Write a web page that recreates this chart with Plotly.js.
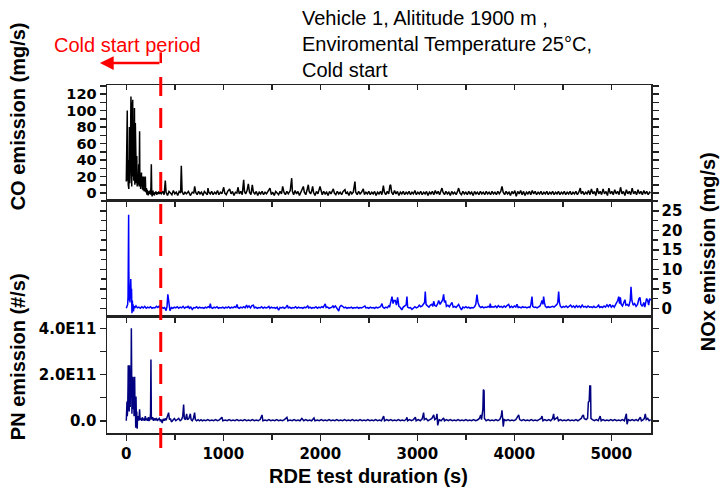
<!DOCTYPE html>
<html>
<head>
<meta charset="utf-8">
<script src="https://cdn.plot.ly/plotly-3.0.1.min.js"></script>
<style>html,body{margin:0;padding:0;background:#fff;}#chart{width:722px;height:487px;}</style>
</head>
<body>
<div id="chart"></div>
<script>
// ---- data (time in s, value) ----
const coldStartEnd = 355;
const xTickVals = [0, 1000, 2000, 3000, 4000, 5000];
const pnTickVals = [0, 1e11, 2e11, 3e11, 4e11];
const pnTickText = ['0.0', '', '2.0E11', '', '4.0E11'];

const coData = [[0,14],[4,60],[8,20],[10,100],[12,15],[16,40],[20,10],[24,57],[26,5],[28,30],[32,80],[36,12],[40,25],[44,70],[48,117],[50,40],[52,110],[56,8],[60,95],[64,30],[66,113],[69,20],[72,60],[76,15],[80,50],[84,103],[88,10],[90,40],[93,85],[96,18],[100,30],[104,12],[108,45],[112,8],[116,22],[120,15],[124,10],[128,35],[132,8],[137,75],[140,10],[144,20],[148,5],[152,12],[156,25],[160,8],[164,15],[168,4],[172,20],[176,3],[179,20],[182,6],[186,2],[190,10],[193,4],[196,20],[200,3],[204,1],[208,6],[212,-2],[216,4],[220,1],[225,-3],[230,2],[235,-1],[240,3],[245,0],[250,-2],[254,8],[258,35],[262,2],[266,-4],[270,1],[275,3],[280,-2],[285,0],[290,-3],[295,1],[300,-1],[305,2],[310,0],[315,-2],[320,1],[325,-1],[330,0],[335,2],[340,-1],[345,0],[350,1],
[360,-1],[375,2],[390,-2],[402,15],[410,1],[425,-3],[440,2],[455,0],[470,-2],[485,3],[500,-1],[515,1],[530,-3],[545,2],[560,0],[567,33],[575,2],[590,-2],[605,1],[620,-1],[640,2],[660,-3],[680,1],[695,0],[705,8],[715,1],[730,-2],[745,2],[760,-1],[775,1],[790,-3],[805,2],[820,0],[835,-2],[842,6],[850,1],[865,-1],[880,2],[895,-2],[910,1],[925,-1],[940,3],[955,-2],[970,1],[985,-1],[1004,7],[1015,0],[1030,-2],[1045,2],[1065,5],[1080,-1],[1095,2],[1110,-3],[1125,1],[1140,0],[1151,7],[1165,-1],[1180,2],[1195,-2],[1210,16],[1218,2],[1230,-1],[1245,3],[1258,11],[1270,1],[1285,-2],[1299,10],[1310,1],[1325,-1],[1340,2],[1355,-3],[1370,1],[1385,-1],[1400,2],[1415,-2],[1430,1],[1445,-1],[1460,2],[1481,6],[1495,-2],[1510,1],[1525,-3],[1540,2],[1555,0],[1570,-2],[1585,2],[1600,-1],[1612,8],[1625,1],[1640,-2],[1655,2],[1670,-1],[1690,3],[1705,18],[1712,2],[1725,-2],[1740,3],[1755,-1],[1770,2],[1785,-3],[1800,1],[1812,3],[1825,8],[1835,1],[1850,-2],[1862,3],[1876,10],[1885,2],[1900,-1],[1910,2],[1921,8],[1930,1],[1945,-3],[1960,2],[1975,-1],[1997,8],[2008,1],[2020,-2],[2035,2],[2050,-1],[2065,1],[2080,-3],[2095,2],[2110,-1],[2134,5],[2145,0],[2160,-2],[2175,2],[2190,-1],[2205,1],[2220,-2],[2235,2],[2254,4],[2265,-1],[2280,1],[2295,-3],[2310,2],[2325,-1],[2340,1],[2357,14],[2365,1],[2380,-2],[2395,2],[2410,-1],[2425,1],[2443,5],[2455,-2],[2470,1],[2485,-1],[2500,2],[2515,-2],[2530,1],[2545,-1],[2560,2],[2575,-3],[2590,1],[2605,-1],[2620,2],[2635,-2],[2650,9],[2660,1],[2675,-2],[2690,2],[2705,-1],[2718,9],[2725,10],[2735,1],[2750,-2],[2765,3],[2780,-1],[2795,2],[2810,-3],[2825,1],[2840,-1],[2855,2],[2870,-2],[2885,1],[2900,-1],[2915,2],[2930,-2],[2945,1],[2960,-1],[2975,3],[2990,-2],[3005,1],[3020,-1],[3035,2],[3050,-2],[3065,1],[3080,-1],[3095,2],[3110,-3],[3125,1],[3140,-1],[3155,2],[3170,-2],[3185,3],[3200,-1],[3215,2],[3230,-2],[3245,3],[3254,6],[3265,1],[3280,-2],[3295,2],[3310,-1],[3325,1],[3340,-3],[3355,2],[3370,-1],[3385,1],[3400,-2],[3415,2],[3426,6],[3440,0],[3455,-2],[3470,2],[3485,-1],[3500,1],[3515,-2],[3530,2],[3545,-1],[3560,1],[3575,-3],[3590,2],[3605,-1],[3620,1],[3635,-2],[3650,2],[3665,-1],[3680,1],[3695,-2],[3710,2],[3725,-1],[3740,1],[3755,-2],[3770,2],[3785,-1],[3800,1],[3815,-2],[3830,2],[3845,-1],[3860,2],[3873,8],[3885,1],[3900,-2],[3915,2],[3930,-1],[3945,1],[3960,-3],[3975,2],[3990,-1],[4005,3],[4020,-4],[4035,2],[4050,-1],[4065,3],[4080,-2],[4095,2],[4110,-3],[4125,1],[4140,-1],[4155,2],[4170,-2],[4185,3],[4200,-1],[4215,2],[4230,-2],[4245,1],[4260,-1],[4275,2],[4290,-2],[4305,1],[4320,-1],[4335,2],[4350,-2],[4365,1],[4380,-1],[4395,2],[4410,-2],[4425,1],[4440,-1],[4455,2],[4470,-2],[4485,1],[4500,-1],[4515,2],[4530,-2],[4545,1],[4560,-1],[4575,2],[4590,-2],[4605,1],[4620,-1],[4635,2],[4650,-2],[4665,1],[4680,6],[4690,-1],[4705,2],[4720,-2],[4735,1],[4750,-1],[4765,3],[4780,-2],[4795,5],[4810,-1],[4825,2],[4840,-3],[4855,6],[4870,-1],[4885,2],[4900,-2],[4915,5],[4930,-1],[4945,2],[4960,-3],[4975,6],[4990,-1],[5005,2],[5020,-2],[5035,4],[5050,-1],[5065,2],[5080,-2],[5095,7],[5110,-1],[5125,2],[5140,-3],[5155,4],[5170,-1],[5185,2],[5200,-2],[5215,6],[5230,-1],[5245,2],[5260,-2],[5275,4],[5290,-1],[5305,2],[5320,-2],[5335,3],[5350,-1],[5365,2],[5380,-2],[5395,1],[5405,0]];

const noxData = [[0,0],[8,0.5],[14,1],[18,3],[22,12],[24,24],[26,10],[30,2],[34,4],[38,1.5],[42,6],[46,7.5],[50,3],[54,5],[58,-1.3],[62,2],[66,0.3],[70,1],[74,-0.8],[80,0.5],[90,0.2],[100,0.6],[115,0.1],[130,0.3],[145,0],[160,0.4],[175,0.1],[190,0.5],[205,0],[220,0.3],[235,0.1],[250,0.4],[265,0],[280,0.2],[295,0.1],[310,0.5],[325,0.2],[340,0.6],[350,0.1],[365,0.3],[380,0],[395,0.2],[410,-0.6],[420,0.5],[428,3.6],[434,2.5],[440,0.3],[450,-0.6],[465,0.2],[480,0],[495,0.3],[510,0.1],[525,0.4],[540,0],[555,0.3],[570,0.1],[585,0.5],[600,0],[615,0.3],[630,0.2],[640,0.6],[650,0],[665,0.3],[680,-0.3],[695,0.2],[710,0.1],[725,0.4],[740,0],[755,0.3],[770,0.1],[785,0.2],[800,0],[815,0.3],[830,0.1],[845,0.4],[858,0.2],[866,1.2],[874,0.2],[890,0],[905,0.3],[920,0.1],[935,0.4],[950,0],[965,0.2],[980,0.1],[995,0.3],[1010,0],[1025,0.3],[1040,0.1],[1055,0.4],[1070,0],[1085,0.3],[1100,0.1],[1115,0.4],[1130,0.2],[1141,1.0],[1150,0.2],[1165,0],[1180,0.3],[1195,0.1],[1210,0.4],[1225,0.1],[1240,0.8],[1250,0.2],[1265,0.6],[1280,0.1],[1295,0.7],[1310,0.8],[1320,0.1],[1335,0.3],[1350,0],[1365,0.2],[1380,0.1],[1395,0.4],[1410,0],[1425,0.3],[1440,0.1],[1455,0.2],[1470,0.5],[1480,0],[1495,0.3],[1510,0.1],[1525,0.2],[1540,0],[1555,0.3],[1570,-0.5],[1585,0.2],[1600,0.1],[1615,0.3],[1630,0],[1645,0.2],[1660,0.8],[1670,0.1],[1685,0.3],[1700,0],[1715,0.2],[1730,0.1],[1745,0.4],[1760,0],[1775,0.3],[1790,0.1],[1805,0.2],[1820,0],[1835,0.3],[1850,0.1],[1870,0.6],[1880,0.1],[1895,0.3],[1910,0],[1925,0.2],[1940,0.1],[1955,0.4],[1970,0],[1985,0.3],[2000,0.1],[2015,0.4],[2030,0.2],[2040,0.6],[2051,1.1],[2060,0.2],[2075,0.3],[2090,0],[2105,0.2],[2120,0.3],[2130,0.7],[2140,0.2],[2155,0.6],[2170,0.1],[2190,-0.7],[2200,0.3],[2215,0.7],[2230,0.5],[2245,0.1],[2260,0.3],[2275,0],[2290,0.2],[2305,0.1],[2320,0.3],[2335,0],[2350,0.2],[2365,0.1],[2380,0.3],[2395,0],[2410,0.2],[2425,0.1],[2440,0.3],[2460,0.6],[2470,0.1],[2485,0.2],[2500,0],[2515,0.3],[2530,0.1],[2545,0.2],[2560,0],[2575,0.3],[2590,0.1],[2605,0.2],[2620,0.4],[2636,1.2],[2645,0.3],[2660,0],[2675,0.3],[2690,0.1],[2705,0.6],[2715,0.4],[2725,1.5],[2739,3.0],[2750,1.2],[2760,2.0],[2773,2.0],[2785,0.8],[2797,2.8],[2810,0.5],[2825,0.2],[2840,-0.4],[2855,0.3],[2870,0.5],[2885,0.9],[2893,3.0],[2900,0.3],[2915,0.1],[2930,0.2],[2945,-0.3],[2960,0.2],[2975,0.4],[2990,0.1],[3005,0.3],[3020,0.8],[3035,0.4],[3050,0.6],[3065,1.2],[3075,1.5],[3082,4.3],[3090,1.0],[3105,0.6],[3120,0.3],[3135,0.8],[3150,1.0],[3160,0.5],[3169,1.8],[3180,0.7],[3195,0.5],[3210,1.2],[3220,2.0],[3235,1.0],[3250,1.5],[3262,2.2],[3271,3.6],[3280,1.5],[3290,2.0],[3300,0.5],[3315,0.8],[3330,0.4],[3345,1.0],[3357,1.5],[3370,0.3],[3385,0.5],[3400,0.2],[3415,0.6],[3426,1.0],[3440,0.2],[3455,-0.4],[3470,0.3],[3485,0.1],[3500,0.4],[3515,0.1],[3530,0.3],[3545,0],[3560,0.2],[3575,0.1],[3590,0.4],[3603,1.0],[3615,3.5],[3625,1.5],[3640,0.5],[3655,0.2],[3670,0.4],[3685,0.1],[3700,0.3],[3715,0.2],[3730,0.5],[3745,0.3],[3752,1.2],[3760,0.3],[3775,0.4],[3790,0.3],[3805,0.6],[3820,0.2],[3835,0.7],[3850,0.3],[3865,0.5],[3880,0.2],[3895,0.6],[3910,0.3],[3925,0.7],[3942,1.0],[3955,0.2],[3970,0.5],[3985,0.2],[4000,0.6],[4015,0.3],[4027,1.0],[4040,0.2],[4055,0.3],[4070,0.1],[4085,0.4],[4100,0.2],[4115,0.3],[4130,0.1],[4145,0.3],[4160,0.2],[4170,0.8],[4182,3.0],[4190,0.5],[4205,0.2],[4220,0.3],[4235,0.1],[4250,0.4],[4265,0.6],[4275,1.2],[4285,2.0],[4295,1.0],[4302,3.0],[4310,1.5],[4320,0.5],[4335,0.2],[4350,0.4],[4365,0.2],[4380,0.3],[4395,0.5],[4410,0.3],[4425,0.6],[4440,1.0],[4448,1.5],[4457,4.3],[4465,1.5],[4475,0.5],[4490,0.2],[4505,0.5],[4520,0.3],[4535,0.6],[4550,0.2],[4565,0.5],[4580,0.8],[4595,0.3],[4610,0.6],[4625,0.2],[4640,0.7],[4655,0.3],[4670,0.6],[4685,0.2],[4700,0.8],[4715,0.3],[4730,0.5],[4745,0.2],[4760,0.6],[4775,0.3],[4790,0.4],[4805,0.2],[4820,0.5],[4835,0.2],[4850,0.3],[4869,0.8],[4880,0.2],[4895,0.4],[4910,0.2],[4925,0.6],[4940,0.3],[4955,0.9],[4970,0.4],[4985,1.0],[5000,0.3],[5015,0.7],[5030,0.3],[5045,1.0],[5058,1.5],[5066,2.0],[5076,3.0],[5085,1.2],[5093,2.8],[5102,1.0],[5115,0.6],[5130,1.8],[5140,2.2],[5150,0.8],[5165,1.0],[5180,0.5],[5195,2.0],[5203,5.5],[5212,2.0],[5225,0.8],[5240,1.2],[5255,0.5],[5270,1.0],[5285,2.5],[5295,2.8],[5305,1.0],[5320,0.5],[5335,1.5],[5345,0.3],[5355,1.5],[5364,2.5],[5375,2.0],[5385,0.8],[5395,2.5],[5405,2.0]];

const pnData = [[0,0],[4,0.3e11],[7,0.83e11],[10,0.2e11],[14,0.5e11],[18,1.5e11],[20,2.4e11],[23,0.8e11],[26,1.2e11],[30,0.4e11],[33,2.4e11],[36,1.5e11],[40,0.6e11],[44,2.2e11],[48,1.0e11],[52,4.0e11],[55,1.2e11],[58,0.3e11],[62,1.8e11],[66,0.5e11],[69,1.9e11],[72,0.6e11],[76,1.2e11],[80,0.2e11],[83,1.4e11],[86,1.9e11],[90,0.3e11],[94,0.8e11],[97,-0.3e11],[100,1.05e11],[104,0.1e11],[108,0.4e11],[112,-0.35e11],[116,0.2e11],[120,0.05e11],[125,0.2e11],[130,0],[137,0.5e11],[142,0.05e11],[150,0.1e11],[158,0],[165,0.15e11],[172,0.02e11],[180,0.1e11],[188,0],[196,0.2e11],[204,0.02e11],[212,0.1e11],[220,0],[228,0.15e11],[236,0.02e11],[244,0.05e11],[250,0.3e11],[254,2.65e11],[258,0.2e11],[264,0.05e11],[272,0.15e11],[280,0],[290,0.1e11],[300,0.02e11],[310,0.12e11],[320,0],[330,0.05e11],[340,0.1e11],[350,0],[360,0.05e11],[370,-0.1e11],[380,0.08e11],[390,0],[400,0.1e11],[410,0.02e11],[420,0.15e11],[436,0.35e11],[445,0.05e11],[455,0.1e11],[465,-0.05e11],[480,0.05e11],[495,0.1e11],[510,0],[525,0.05e11],[540,0.1e11],[555,0],[570,0.05e11],[582,0.2e11],[591,0.7e11],[598,0.1e11],[610,0.05e11],[622,0.3e11],[630,0.05e11],[645,0.1e11],[660,0.3e11],[668,0.05e11],[680,0],[692,0.1e11],[704,0.35e11],[712,0.05e11],[725,0],[740,0.05e11],[755,0],[770,0.05e11],[785,0],[800,0.03e11],[820,0],[840,0.05e11],[860,0],[880,0.03e11],[900,0],[920,0.05e11],[940,0],[960,0.04e11],[986,0.15e11],[995,0],[1020,0.03e11],[1040,0],[1060,0.05e11],[1080,0],[1100,0.03e11],[1120,0],[1140,0.05e11],[1160,0],[1180,0.03e11],[1200,0],[1220,0.05e11],[1240,0],[1260,0.03e11],[1280,0],[1300,0.05e11],[1320,0],[1340,0.03e11],[1360,0],[1380,0.05e11],[1399,0.25e11],[1408,0],[1430,0.03e11],[1450,0],[1470,0.05e11],[1490,0],[1510,0.03e11],[1530,0],[1550,0.05e11],[1570,0],[1590,0.03e11],[1610,0],[1630,0.05e11],[1656,0.15e11],[1665,0],[1690,0.03e11],[1710,0],[1730,0.05e11],[1750,0],[1770,0.03e11],[1790,0],[1810,0.1e11],[1830,0],[1850,0.05e11],[1870,0],[1890,0.03e11],[1910,0],[1935,0.12e11],[1945,0],[1970,0.03e11],[1990,0],[2010,0.05e11],[2030,0],[2050,0.03e11],[2070,0],[2090,0.05e11],[2110,0],[2130,0.03e11],[2150,0],[2170,0.05e11],[2190,0],[2210,0.03e11],[2230,0],[2250,0.05e11],[2270,0],[2290,0.03e11],[2310,0],[2330,0.05e11],[2350,0],[2370,0.03e11],[2390,0],[2410,0.05e11],[2430,0],[2450,0.03e11],[2470,0],[2490,0.05e11],[2510,0],[2530,0.03e11],[2550,0],[2570,0.05e11],[2590,0],[2610,0.03e11],[2630,0],[2653,0.2e11],[2662,0],[2685,0.05e11],[2705,0],[2725,0.05e11],[2745,0],[2765,0.03e11],[2785,0],[2805,0.05e11],[2825,0],[2845,0.03e11],[2865,0],[2885,0.06e11],[2893,0.15e11],[2900,0],[2920,0.05e11],[2940,0],[2960,0.05e11],[2980,0.15e11],[2988,0],[3010,0.05e11],[3030,0],[3050,0.08e11],[3065,0.35e11],[3072,0.05e11],[3090,0.1e11],[3110,0],[3130,0.05e11],[3150,0.1e11],[3169,0.25e11],[3180,0.05e11],[3195,0.1e11],[3203,0.3e11],[3210,-0.2e11],[3225,0.05e11],[3245,0],[3260,0.05e11],[3271,0.12e11],[3280,0],[3300,0.05e11],[3320,0],[3340,0.05e11],[3360,0],[3380,0.03e11],[3400,0],[3420,0.05e11],[3440,0],[3460,0.03e11],[3480,0],[3500,0.05e11],[3520,0],[3540,0.03e11],[3560,0],[3580,0.05e11],[3600,0],[3620,0.03e11],[3640,0.1e11],[3653,0.25e11],[3662,0.05e11],[3676,0.5e11],[3681,1.35e11],[3688,1.3e11],[3692,0.1e11],[3710,0],[3730,0.05e11],[3750,0],[3770,0.03e11],[3790,0],[3810,0.05e11],[3830,0],[3850,0.05e11],[3865,0.2e11],[3873,0.45e11],[3880,0.1e11],[3886,-0.25e11],[3895,0.05e11],[3915,0],[3935,0.05e11],[3955,0],[3975,0.03e11],[3995,0],[4015,0.05e11],[4035,0.2e11],[4045,0.25e11],[4055,0.05e11],[4075,0],[4095,0.05e11],[4115,0],[4135,0.03e11],[4155,0],[4175,0.05e11],[4195,0],[4215,0.03e11],[4235,0],[4255,0.05e11],[4275,0.1e11],[4285,0.2e11],[4295,0],[4315,0.05e11],[4335,0],[4355,0.05e11],[4375,0],[4395,0.1e11],[4405,0.3e11],[4413,0.05e11],[4430,0.1e11],[4445,0.15e11],[4455,0],[4475,0.05e11],[4495,0],[4515,0.03e11],[4535,0],[4555,0.05e11],[4575,0],[4595,0.03e11],[4615,0],[4635,0.05e11],[4655,0],[4675,0.05e11],[4690,0.1e11],[4700,0.2e11],[4712,0.25e11],[4720,0.1e11],[4740,0.05e11],[4755,0.1e11],[4763,0.8e11],[4772,0.85e11],[4778,1.5e11],[4786,1.5e11],[4790,0.1e11],[4805,0.05e11],[4825,0],[4845,0.05e11],[4865,0],[4885,0.2e11],[4895,0],[4915,0.05e11],[4935,0],[4955,0.03e11],[4975,0],[4995,0.05e11],[5015,0],[5035,0.05e11],[5055,0],[5075,0.03e11],[5095,0],[5115,0.05e11],[5135,0],[5155,0.3e11],[5162,-0.15e11],[5175,0.05e11],[5195,0],[5215,0.05e11],[5235,0],[5255,0.05e11],[5275,0],[5299,0.15e11],[5310,0],[5330,0.05e11],[5340,0.1e11],[5350,0.3e11],[5360,0.05e11],[5375,0.1e11],[5390,0],[5405,0.05e11]];

// ---- chart ----
const FONT = 'Liberation Sans, Arial, Helvetica, sans-serif';
const TICKFONT = 'DejaVu Sans, Liberation Sans, Arial, sans-serif';
const NARROW = 'Liberation Sans Narrow, Liberation Sans, Arial, sans-serif';
const AX = '#222';
const xRange = [-199, 5409];
const bold = (s, fam) => ({family: fam || FONT, size: s, color: '#000', weight: 'bold'});

const traces = [
  {x: coData.map(p => p[0]), y: coData.map(p => p[1]), xaxis: 'x', yaxis: 'y', type: 'scatter', mode: 'lines', line: {color: '#000000', width: 1.5}, name: 'CO'},
  {x: noxData.map(p => p[0]), y: noxData.map(p => p[1]), xaxis: 'x2', yaxis: 'y2', type: 'scatter', mode: 'lines', line: {color: '#0000ff', width: 1.5}, name: 'NOx'},
  {x: pnData.map(p => p[0]), y: pnData.map(p => p[1]), xaxis: 'x3', yaxis: 'y3', type: 'scatter', mode: 'lines', line: {color: '#000080', width: 1.5}, name: 'PN'},
  {x: [], y: [], xaxis: 'x4', yaxis: 'y', type: 'scatter', mode: 'lines', showlegend: false, hoverinfo: 'skip'}
];

const xCommon = {
  range: xRange, showgrid: false, zeroline: false, showline: true, linecolor: AX, linewidth: 1.5,
  ticks: 'outside', ticklen: 5, tickwidth: 1.5, tickcolor: AX, tick0: 0, dtick: 500, showticklabels: false
};

const layout = {
  width: 722, height: 487,
  margin: {l: 107, r: 71, t: 85, b: 54},
  paper_bgcolor: '#fff', plot_bgcolor: '#fff',
  showlegend: false,
  font: {family: FONT, color: '#000'},
  xaxis: Object.assign({}, xCommon, {anchor: 'y', mirror: true}),
  xaxis2: Object.assign({}, xCommon, {anchor: 'y2', matches: 'x', mirror: true}),
  xaxis3: Object.assign({}, xCommon, {
    anchor: 'y3', matches: 'x', mirror: true, showticklabels: true,
    tickmode: 'array', tickvals: xTickVals, ticklen: 6,
    minor: {tickmode: 'linear', tick0: 500, dtick: 1000, ticks: 'outside', ticklen: 5, tickwidth: 1.5, tickcolor: AX},
    tickfont: bold(15, TICKFONT)
  }),
  xaxis4: {overlaying: 'x', anchor: 'y', side: 'top', range: xRange, showgrid: false, zeroline: false, showline: false,
    ticks: 'inside', ticklen: 5, tickwidth: 1.5, tickcolor: AX, tick0: 0, dtick: 500, showticklabels: false},
  yaxis: {
    domain: [0.6675, 1], anchor: 'x', range: [-9.3, 131], showgrid: false, zeroline: false,
    showline: true, linecolor: AX, linewidth: 1.5, mirror: 'allticks',
    ticks: 'outside', ticklen: 6, tickwidth: 1.5, tickcolor: AX, tick0: 0, dtick: 20,
    minor: {tick0: 10, dtick: 20, ticks: 'outside', ticklen: 5, tickwidth: 1.5, tickcolor: AX},
    tickfont: bold(14.5, TICKFONT)
  },
  yaxis2: {
    domain: [0.336, 0.6675], anchor: 'x2', side: 'right', range: [-2, 27.6], showgrid: false, zeroline: false,
    showline: true, linecolor: AX, linewidth: 1.5, mirror: 'allticks',
    ticks: 'outside', ticklen: 6, tickwidth: 1.5, tickcolor: AX, tick0: 0, dtick: 5,
    minor: {tick0: 2.5, dtick: 5, ticks: 'outside', ticklen: 5, tickwidth: 1.5, tickcolor: AX},
    tickfont: bold(15, TICKFONT)
  },
  yaxis3: {
    domain: [0, 0.336], anchor: 'x3', range: [-0.53e11, 4.53e11], showgrid: false, zeroline: false,
    showline: true, linecolor: AX, linewidth: 1.5, mirror: 'allticks',
    ticks: 'outside', ticklen: 6, tickwidth: 1.5, tickcolor: AX,
    tickmode: 'array', tickvals: pnTickVals, ticktext: pnTickText,
    tickfont: bold(15, TICKFONT)
  },
  shapes: [
    {type: 'line', xref: 'x', yref: 'paper', x0: coldStartEnd, x1: coldStartEnd, y0: -0.043, y1: 1.023,
     line: {color: '#ff0000', width: 3, dash: '20px,12px'}, layer: 'above'},
    {type: 'line', xref: 'x', yref: 'paper', x0: coldStartEnd, x1: coldStartEnd, y0: 1.063, y1: 1.094,
     line: {color: '#ff0000', width: 2.5}}
  ],
  annotations: [
    {xref: 'paper', yref: 'paper', x: -0.013, y: 1.063, ax: 61, ay: 0, text: '', showarrow: true,
     arrowhead: 2, arrowsize: 1.1, arrowwidth: 2.5, arrowcolor: '#ff0000'},
    {xref: 'paper', yref: 'paper', x: 0.0386, y: 1.115, xanchor: 'center', yanchor: 'middle', showarrow: false,
     text: 'Cold start period', font: {family: FONT, size: 20, color: '#ff0000'}},
    {xref: 'paper', yref: 'paper', x: 0.354, y: 1.118, xanchor: 'left', yanchor: 'middle', align: 'left', showarrow: false,
     text: 'Vehicle 1, Alititude 1900 m ,<br>Enviromental Temperature 25°C,<br>Cold start', font: {family: FONT, size: 20, color: '#000'}},
    {xref: 'paper', yref: 'paper', x: 0.481, y: -0.1236, xanchor: 'center', yanchor: 'middle', showarrow: false,
     text: 'RDE test duration (s)', font: bold(20)},
    {xref: 'paper', yref: 'paper', x: -0.1636, y: 0.91, xanchor: 'center', yanchor: 'middle', textangle: -90, showarrow: false,
     text: 'CO emission (mg/s)', font: bold(20, NARROW)},
    {xref: 'paper', yref: 'paper', x: 1.105, y: 0.52, xanchor: 'center', yanchor: 'middle', textangle: -90, showarrow: false,
     text: 'NOx emission (mg/s)', font: bold(20, NARROW)},
    {xref: 'paper', yref: 'paper', x: -0.1636, y: 0.218, xanchor: 'center', yanchor: 'middle', textangle: -90, showarrow: false,
     text: 'PN emission (#/s)', font: bold(20, NARROW)}
  ]
};

Plotly.newPlot('chart', traces, layout, {displayModeBar: false, staticPlot: true});
</script>
</body>
</html>
